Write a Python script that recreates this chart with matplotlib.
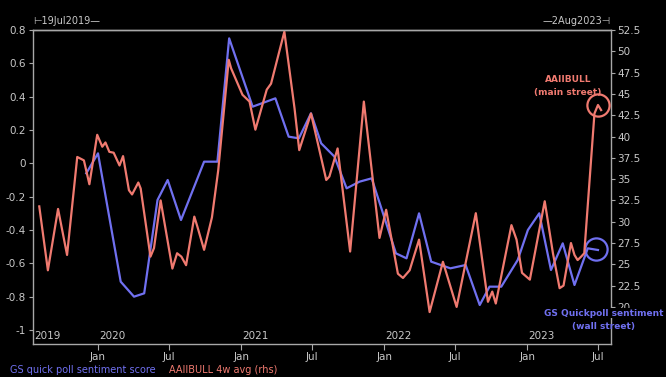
import matplotlib
matplotlib.use("Agg")
import matplotlib.pyplot as plt
import matplotlib.dates as mdates
import matplotlib.transforms as mtransforms
import pandas as pd

# ---------------- data ----------------
gs_dates = ["2019-12-02", "2020-01-01", "2020-02-28", "2020-04-02", "2020-04-28",
            "2020-06-01", "2020-06-27", "2020-07-31", "2020-09-28", "2020-11-01",
            "2020-12-01", "2021-01-30", "2021-03-29", "2021-05-02", "2021-05-28",
            "2021-06-28", "2021-07-24", "2021-08-27", "2021-09-27", "2021-10-30",
            "2021-11-30", "2022-01-31", "2022-02-27", "2022-03-31", "2022-05-01",
            "2022-06-19", "2022-07-28", "2022-09-02", "2022-09-27", "2022-10-27",
            "2022-12-08", "2023-01-03", "2023-02-01", "2023-03-03", "2023-04-02",
            "2023-05-02", "2023-06-05", "2023-07-01"]
gs_values = [-0.06, 0.06, -0.71, -0.80, -0.78,
             -0.22, -0.10, -0.34, 0.01, 0.01,
             0.75, 0.34, 0.39, 0.16, 0.15,
             0.30, 0.12, 0.04, -0.15, -0.11,
             -0.09, -0.54, -0.57, -0.30, -0.59,
             -0.63, -0.61, -0.85, -0.74, -0.74,
             -0.58, -0.40, -0.30, -0.64, -0.48,
             -0.73, -0.51, -0.52]

aaii_dates = ["2019-08-04", "2019-08-26", "2019-09-21", "2019-10-14", "2019-11-09",
              "2019-11-26", "2019-12-10", "2019-12-30", "2020-01-12", "2020-01-20",
              "2020-01-30", "2020-02-10", "2020-02-25", "2020-03-05", "2020-03-20",
              "2020-03-28", "2020-04-13", "2020-04-19", "2020-05-14", "2020-05-23",
              "2020-06-09", "2020-07-09", "2020-07-21", "2020-08-01", "2020-08-13",
              "2020-09-03", "2020-09-11", "2020-09-28", "2020-10-18", "2020-11-03",
              "2020-11-30", "2020-12-06", "2021-01-04", "2021-01-22", "2021-02-06",
              "2021-03-07", "2021-03-18", "2021-04-21", "2021-05-17", "2021-05-29",
              "2021-06-28", "2021-08-06", "2021-08-14", "2021-09-04", "2021-10-06",
              "2021-11-10", "2021-12-20", "2022-01-06", "2022-02-05", "2022-02-18",
              "2022-03-07", "2022-03-31", "2022-04-27", "2022-05-31", "2022-07-05",
              "2022-08-23", "2022-09-23", "2022-10-04", "2022-10-13", "2022-11-22",
              "2022-12-05", "2022-12-19", "2023-01-08", "2023-02-15", "2023-03-08",
              "2023-03-25", "2023-04-04", "2023-04-23", "2023-05-02", "2023-05-10",
              "2023-05-19", "2023-05-27", "2023-06-22", "2023-07-01", "2023-07-09"]
aaii_values = [31.8, 24.3, 31.5, 26.1, 37.6,
               37.2, 34.4, 40.2, 38.8, 39.3,
               38.2, 38.1, 36.6, 37.7, 33.7,
               33.2, 34.6, 33.9, 25.9, 26.9,
               32.5, 24.5, 26.3, 25.9, 24.9,
               30.6, 29.4, 26.7, 30.5, 36.0,
               49.0, 48.0, 44.9, 44.1, 40.8,
               45.5, 46.2, 52.3, 43.3, 38.4,
               42.7, 34.9, 35.3, 38.6, 26.5,
               44.1, 28.1, 31.4, 23.9, 23.4,
               24.3, 27.9, 19.4, 25.3, 20.0,
               31.0, 20.6, 21.8, 20.4, 29.6,
               27.9, 24.0, 23.2, 32.4, 26.3,
               22.2, 22.5, 27.5, 26.1, 25.5,
               25.9, 26.3, 42.7, 43.7, 43.1]

left_ticks = [0.8, 0.6, 0.4, 0.2, 0, -0.2, -0.4, -0.6, -0.8, -1]
left_ticklabels = ["0.8", "0.6", "0.4", "0.2", "0", "-0.2", "-0.4", "-0.6", "-0.8", "-1"]
right_ticks = [52.5, 50, 47.5, 45, 42.5, 40, 37.5, 35, 32.5, 30, 27.5, 25, 22.5, 20]
right_ticklabels = ["52.5", "50", "47.5", "45", "42.5", "40", "37.5", "35", "32.5",
                    "30", "27.5", "25", "22.5", "20"]
years = [2019, 2020, 2021, 2022, 2023]

# ---------------- style ----------------
BG = "black"
FG = "#c8c8c8"
SPINE = "#a8a8a8"
BLUE = "#7070f0"
RED = "#f07a70"

gs_x = pd.to_datetime(gs_dates)
aa_x = pd.to_datetime(aaii_dates)
xmin = pd.Timestamp("2019-07-19")
xmax = pd.Timestamp("2023-08-02")

fig = plt.figure(figsize=(6.66, 3.77), dpi=100, facecolor=BG)
ax = fig.add_axes([33 / 666, 1 - 344 / 377, (610.5 - 33) / 666, (344 - 30) / 377])
ax.set_facecolor(BG)
ax2 = ax.twinx()

ax.plot(gs_x, gs_values, color=BLUE, lw=1.6, zorder=3)
ax2.plot(aa_x, aaii_values, color=RED, lw=1.6, zorder=2)

ax.set_xlim(xmin, xmax)
ax.set_ylim(-1.084, 0.8)
ax2.set_ylim(15.65, 52.5)

ax.set_yticks(left_ticks)
ax.set_yticklabels(left_ticklabels)
ax2.set_yticks(right_ticks)
ax2.set_yticklabels(right_ticklabels)

ax.xaxis.set_major_locator(mdates.MonthLocator(bymonth=[1, 7]))
ax.xaxis.set_major_formatter(mdates.DateFormatter("%b"))

for a in (ax, ax2):
    for s in a.spines.values():
        s.set_color(SPINE)
        s.set_linewidth(1.0)
    a.tick_params(colors=FG, labelsize=7.5, length=3, width=0.8, color=SPINE, pad=2)
ax.tick_params(axis="x", length=4, pad=2)
ax2.spines["left"].set_visible(False)
ax2.spines["bottom"].set_visible(False)
ax.spines["right"].set_visible(False)
ax.spines["top"].set_visible(True)

# year labels inside bottom
ytrans = mtransforms.blended_transform_factory(ax.transData, ax.transAxes)
for yr in years:
    xd = max(pd.Timestamp(f"{yr}-01-01"), xmin)
    ax.text(xd + pd.Timedelta(days=3), 0.008, str(yr), transform=ytrans,
            color=FG, fontsize=7.5, ha="left", va="bottom")

# top date labels
ax.text(0.0, 1.012, "\u22a219Jul2019\u2014", transform=ax.transAxes, color=FG,
        fontsize=7, ha="left", va="bottom")
ax.text(1.0, 1.012, "\u20142Aug2023\u22a3", transform=ax.transAxes, color=FG,
        fontsize=7, ha="right", va="bottom")

# highlight circles
cx_red = aa_x[-2]
cy_red = aaii_values[-2]
ax2.plot([cx_red], [cy_red], marker="o", ms=16, mfc="none", mec=RED, mew=1.6, zorder=5)
cx_blue = gs_x[-1] - pd.Timedelta(days=4)
cy_blue = sum(gs_values[-2:]) / 2
ax.plot([cx_blue], [cy_blue], marker="o", ms=16, mfc="none", mec=BLUE, mew=1.6, zorder=5)

# annotations
fig.text(568 / 666, 1 - 79 / 377, "AAIIBULL", color=RED, fontsize=6.5,
         fontweight="bold", ha="center", va="center")
fig.text(568 / 666, 1 - 92 / 377, "(main street)", color=RED, fontsize=6.5,
         fontweight="bold", ha="center", va="center")
fig.text(604 / 666, 1 - 313 / 377, "GS Quickpoll sentiment", color=BLUE, fontsize=6.5,
         fontweight="bold", ha="center", va="center", zorder=10,
         bbox=dict(facecolor=BG, edgecolor="none", pad=0.5))
fig.text(604 / 666, 1 - 326 / 377, "(wall street)", color=BLUE, fontsize=6.5,
         fontweight="bold", ha="center", va="center")

# bottom legend
fig.text(10 / 666, 1 - 370 / 377, "GS quick poll sentiment score", color=BLUE,
         fontsize=7, ha="left", va="center")
fig.text(169 / 666, 1 - 370 / 377, "AAIIBULL 4w avg (rhs)", color=RED,
         fontsize=7, ha="left", va="center")

fig.savefig("out.png", dpi=100, facecolor=BG)
